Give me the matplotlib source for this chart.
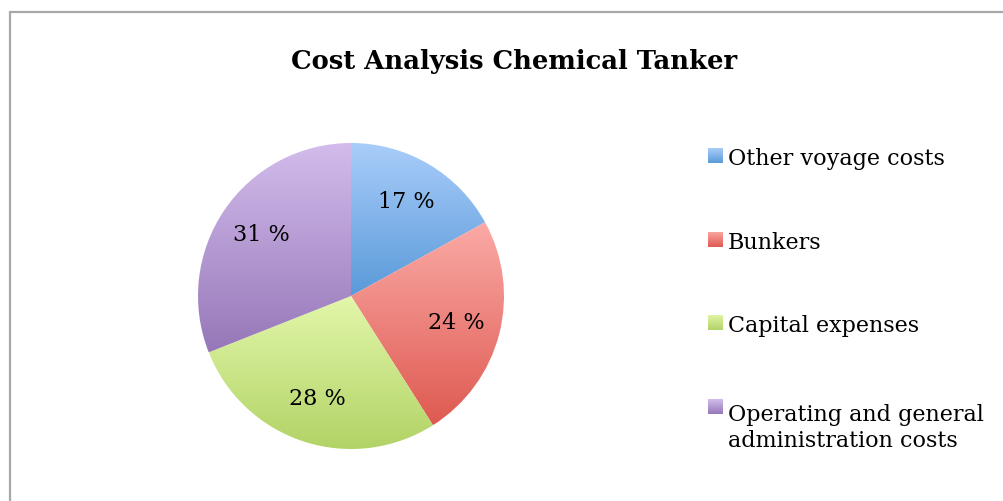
import numpy as np
import matplotlib
matplotlib.use('Agg')
import matplotlib.pyplot as plt
from matplotlib.colors import LinearSegmentedColormap
from matplotlib.patches import Rectangle

W, H = 1004, 501

title = 'Cost Analysis Chemical Tanker'
labels = ['Other voyage costs', 'Bunkers', 'Capital expenses',
          'Operating and general\nadministration costs']
values = [17, 24, 28, 31]
# (top colour, bottom colour) of each slice's gradient
tops = ['#a9cdfa', '#fbaaa6', '#e2f7aa', '#d3bdec']
bottoms = ['#5a9ad9', '#de5a51', '#b2d366', '#9677b8']

plt.rcParams['font.family'] = ['DejaVu Serif']


def fx(x):
    return x / W


def fy(y):
    return 1 - y / H


def gradient_cmap(top, bottom):
    return LinearSegmentedColormap.from_list('g', [bottom, top])


fig = plt.figure(figsize=(W / 100, H / 100), dpi=100)

# chart frame
fig.add_artist(Rectangle((fx(10), -0.1), 1.2, fy(12) + 0.1, transform=fig.transFigure,
                         fill=False, edgecolor='#a8a8a8', linewidth=1.6))

fig.text(fx(514), fy(69), title, ha='center', va='baseline',
         fontsize=18.6, fontweight='bold')

# pie
ax = fig.add_axes([fx(198), fy(449), 306 / W, 306 / H])
wedges, texts, autotexts = ax.pie(values, startangle=90, counterclock=False,
                                  autopct=lambda p: f'{p:.0f} %', pctdistance=0.71,
                                  wedgeprops=dict(linewidth=0))
grad = np.linspace(0, 1, 256).reshape(-1, 1)
for w, t, b in zip(wedges, tops, bottoms):
    bb = w.get_path().get_extents()
    im = ax.imshow(grad, extent=[bb.x0, bb.x1, bb.y0, bb.y1], origin='lower',
                   cmap=gradient_cmap(t, b), aspect='auto', zorder=1)
    im.set_clip_path(w)
    w.set_facecolor('none')
for at in autotexts:
    at.set_fontsize(16)
    at.set_zorder(3)
ax.set_xlim(-1, 1)
ax.set_ylim(-1, 1)
ax.set_aspect('equal')
ax.axis('off')

# legend
base = 165
step = 83.7
line_px = 31
for i, (lab, t, b) in enumerate(zip(labels, tops, bottoms)):
    yb = base + i * step
    lax = fig.add_axes([fx(708), fy(yb - 2), 15 / W, 15 / H])
    lax.imshow(grad, origin='lower', cmap=gradient_cmap(t, b), aspect='auto')
    lax.axis('off')
    extra = lab.count('\n') * line_px
    fig.text(fx(728), fy(yb + extra), lab, ha='left', va='baseline', fontsize=16,
             linespacing=1.25)

fig.savefig('out.png', dpi=100)
